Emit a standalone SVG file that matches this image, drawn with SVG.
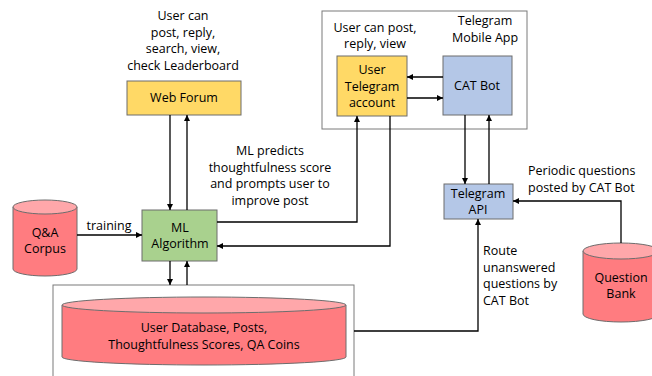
<svg xmlns="http://www.w3.org/2000/svg" width="652" height="376" viewBox="0 0 652 376">
<defs>
<marker id="ah" viewBox="0 0 10 10" refX="10" refY="5" markerWidth="6" markerHeight="6" markerUnits="userSpaceOnUse" orient="auto">
<path d="M0,0 L10,5 L0,10 z" fill="#000"/>
</marker>
<style>
text{font-family:"Open Sans","Liberation Sans",sans-serif;font-size:12.5px;fill:#000;text-anchor:middle;}
.l{text-anchor:start;}
.box{stroke:#6d6d6d;stroke-width:1;}
.y{fill:#FFD966;}
.g{fill:#A9D18E;}
.b{fill:#B4C7E7;}
.cont{fill:#fff;stroke:#7a7a7a;stroke-width:1;}
.cyl{fill:#FF7C80;stroke:#6d6d6d;stroke-width:1;}
.cyltop{fill:#FFA7AA;stroke:#6d6d6d;stroke-width:1;}
.c{fill:none;stroke:#000;stroke-width:1.3;marker-end:url(#ah);}
.n{fill:none;stroke:#000;stroke-width:1.3;}
</style>
</defs>
<rect width="652" height="376" fill="#fff"/>

<g id="telegram-app">
<rect class="cont" x="322" y="11" width="205" height="118"/>
<text x="485" y="25">Telegram</text>
<text x="485" y="42">Mobile App</text>
<text x="375" y="32">User can post,</text>
<text x="375" y="48">reply, view</text>
</g>

<g id="db-container">
<rect class="cont" x="53" y="285" width="301" height="100"/>
</g>

<g id="web-forum">
<text x="183" y="20">User can</text>
<text x="183" y="37">post, reply,</text>
<text x="183" y="53">search, view,</text>
<text x="183" y="70">check Leaderboard</text>
<rect class="box y" x="127" y="81" width="114" height="34"/>
<text x="184" y="102">Web Forum</text>
</g>

<g id="ml-algorithm">
<rect class="box g" x="142" y="210" width="75" height="51"/>
<text x="180" y="232">ML</text>
<text x="180" y="248">Algorithm</text>
</g>

<g id="qa-corpus">
<path class="cyl" d="M13,207 L13,269 A32,7 0 0 0 77,269 L77,207"/>
<ellipse class="cyltop" cx="45" cy="207" rx="32" ry="7"/>
<text x="45" y="237">Q&amp;A</text>
<text x="45" y="253">Corpus</text>
</g>

<g id="user-db">
<path class="cyl" d="M62,305 L62,357 A142,8 0 0 0 346,357 L346,305"/>
<ellipse class="cyltop" cx="204" cy="305" rx="142" ry="8"/>
<text x="204" y="332">User Database, Posts,</text>
<text x="204" y="349">Thoughtfulness Scores, QA Coins</text>
</g>

<g id="user-telegram">
<rect class="box y" x="337" y="56" width="70" height="60"/>
<text x="372" y="74">User</text>
<text x="372" y="91">Telegram</text>
<text x="372" y="107">account</text>
</g>

<g id="cat-bot">
<rect class="box b" x="443" y="56" width="69" height="59"/>
<text x="477" y="90">CAT Bot</text>
</g>

<g id="telegram-api">
<rect class="box b" x="444" y="184" width="69" height="35"/>
<text x="478" y="198">Telegram</text>
<text x="478" y="214">API</text>
</g>

<g id="question-bank">
<path class="cyl" d="M583,251 L583,314 A38,8 0 0 0 659,314 L659,251"/>
<ellipse class="cyltop" cx="621" cy="251" rx="38" ry="8"/>
<text x="621" y="282">Question</text>
<text x="621" y="298">Bank</text>
</g>

<g id="labels">
<text x="270" y="155">ML predicts</text>
<text x="270" y="172">thoughtfulness score</text>
<text x="270" y="188">and prompts user to</text>
<text x="270" y="205">improve post</text>
<text x="109" y="230">training</text>
<text class="l" x="528" y="175">Periodic questions</text>
<text class="l" x="528" y="192">posted by CAT Bot</text>
<text class="l" x="483" y="255">Route</text>
<text class="l" x="483" y="272">unanswered</text>
<text class="l" x="483" y="288">questions by</text>
<text class="l" x="483" y="305">CAT Bot</text>
</g>

<g id="connectors">
<path class="c" d="M170,115 L170,210"/>
<path class="c" d="M187,210 L187,115"/>
<path class="c" d="M170,261 L170,285"/>
<path class="c" d="M187,285 L187,261"/>
<path class="c" d="M77,235 L142,235"/>
<path class="c" d="M217,222 L357,222 L357,116"/>
<path class="c" d="M390,116 L390,246 L217,246"/>
<path class="c" d="M443,77 L407,77"/>
<path class="c" d="M407,98 L443,98"/>
<path class="c" d="M465,115 L465,184"/>
<path class="c" d="M489,184 L489,115"/>
<path class="c" d="M621,243 L621,201 L513,201"/>
<path class="c" d="M354,331 L478,331 L478,219"/>
</g>
</svg>
